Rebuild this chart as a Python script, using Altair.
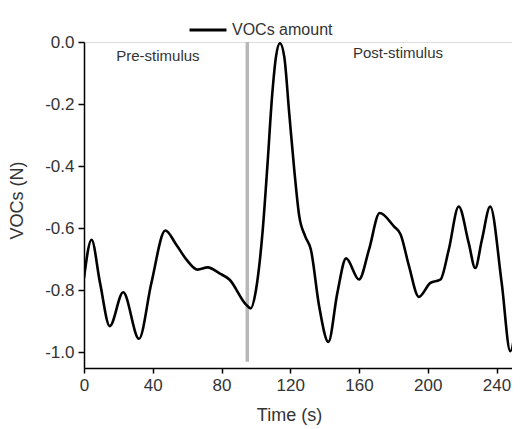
import altair as alt
import pandas as pd

# Curve
time_s = [0, 4.4, 9.3, 15, 22.8, 32, 39.2, 47.3, 53.7, 59.5, 66, 72, 78.8, 84.6, 94.3, 97,
          100.1, 104, 106.8, 109.4, 111.7, 114, 116.5, 119.4, 122.3, 125.2, 128.7, 132,
          136.8, 142.2, 147.4, 152.5, 160, 165.8, 172, 180.3, 184.2, 189, 194.8, 201.5,
          207.4, 212.2, 218, 223.8, 227.6, 231.5, 236.3, 243, 248, 252.8]
vocs = [-0.76, -0.637, -0.775, -0.915, -0.806, -0.956, -0.776, -0.607, -0.653, -0.70, -0.733,
        -0.726, -0.745, -0.765, -0.846, -0.858,
        -0.797, -0.604, -0.39, -0.176, -0.047, -0.004, -0.047, -0.23, -0.41, -0.56, -0.626, -0.669,
        -0.851, -0.966, -0.808, -0.697, -0.765, -0.669, -0.551, -0.594, -0.62, -0.72, -0.821, -0.776,
        -0.765, -0.669, -0.53, -0.647, -0.728, -0.637, -0.53, -0.776, -0.996, -0.813]
series_name = "VOCs amount"

stim_time = [95]
stim_top = [0.0]
stim_bottom = [-1.03]

label_text = ["Pre-stimulus", "Post-stimulus"]
label_x = [43.0, 182.7]
label_y = [-0.045, -0.035]

x_ticks = [0, 40, 80, 120, 160, 200, 240]
y_ticks = [0.0, -0.2, -0.4, -0.6, -0.8, -1.0]

FONT = "Liberation Sans"
TXT = "#333333"

curve = pd.DataFrame({"t": time_s, "v": vocs, "s": series_name})
stim = pd.DataFrame({"t": stim_time, "y1": stim_top, "y2": stim_bottom})
labels = pd.DataFrame({"t": label_x, "v": label_y, "text": label_text})

xscale = alt.Scale(domain=[0, 249], nice=False, zero=False)
yscale = alt.Scale(domain=[-1.05, 0.0], nice=False, zero=False)

xaxis = alt.Axis(values=x_ticks, title="Time (s)", grid=False, format="d",
                 domainColor="black", domainWidth=1.5, tickColor="black", tickWidth=1.5,
                 tickSize=5, labelPadding=4, labelFontSize=17, labelColor=TXT,
                 labelFont=FONT, titleFont=FONT, titleFontSize=18, titleFontWeight="normal",
                 titleColor=TXT, titleX=205, titleY=38, labelFlush=False)
yaxis = alt.Axis(values=y_ticks, title="VOCs (N)", grid=False,
                 labelExpr="(datum.value < 0 ? '-' : '') + format(abs(datum.value), '.1f')",
                 domainColor="black", domainWidth=1.5, tickColor="black", tickWidth=1.5,
                 tickSize=6, labelPadding=4, labelFontSize=17, labelColor=TXT,
                 labelFont=FONT, titleFont=FONT, titleFontSize=18, titleFontWeight="normal",
                 titleColor=TXT, titleX=-58, titleY=158)

stim_rule = alt.Chart(stim).mark_rule(color="#b8b8b8", strokeWidth=3.5).encode(
    x=alt.X("t:Q", scale=xscale, axis=xaxis),
    y=alt.Y("y1:Q", scale=yscale, axis=yaxis),
    y2="y2:Q",
)

line = alt.Chart(curve).mark_line(strokeWidth=2.6, interpolate="monotone", clip=True).encode(
    x=alt.X("t:Q", scale=xscale, axis=xaxis),
    y=alt.Y("v:Q", scale=yscale, axis=yaxis),
    color=alt.Color("s:N", scale=alt.Scale(range=["black"]),
                    legend=alt.Legend(title=None, orient="none", legendX=104, legendY=-32,
                                      symbolType="stroke", symbolSize=1369, symbolStrokeWidth=3,
                                      labelFontSize=16, labelFont=FONT, labelColor=TXT,
                                      labelOffset=4)),
)

texts = alt.Chart(labels).mark_text(font=FONT, fontSize=15, color=TXT, baseline="middle").encode(
    x=alt.X("t:Q", scale=xscale),
    y=alt.Y("v:Q", scale=yscale),
    text="text:N",
)

chart = (stim_rule + line + texts).properties(
    width=428, height=326,
    autosize=alt.AutoSizeParams(type="none"),
    padding={"left": 76, "top": 34, "right": 0, "bottom": 60},
).configure_view(stroke=None).configure(background="white")

chart.save("out.html", embed_options={"renderer": "svg", "actions": False})
